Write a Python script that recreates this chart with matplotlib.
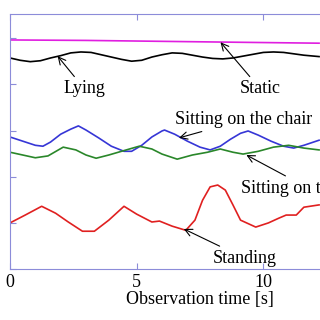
import numpy as np
import matplotlib
matplotlib.use('Agg')
import matplotlib.pyplot as plt

# Static (magenta)
t_static = [0, 3, 6, 9, 12.2]
static = [4.96, 4.95, 4.93, 4.91, 4.89]

# Lying (black)
t_lying = [0, 0.4, 0.8, 1.2, 1.6, 2.0, 2.4, 2.8, 3.2, 3.6, 4.0, 4.4, 4.8, 5.2, 5.6, 6.0,
           6.4, 6.8, 7.2, 7.6, 8.0, 8.4, 8.8, 9.2, 9.6, 10.0, 10.4, 10.8, 11.2, 11.6, 12.0, 12.2]
lying = [4.57, 4.52, 4.49, 4.51, 4.57, 4.62, 4.68, 4.70, 4.69, 4.64, 4.59, 4.54, 4.50, 4.52, 4.59, 4.64,
         4.68, 4.67, 4.63, 4.59, 4.56, 4.55, 4.57, 4.61, 4.65, 4.69, 4.70, 4.69, 4.66, 4.63, 4.61, 4.60]

# Sitting on the chair (blue)
t_chair = [0, 0.5, 1.0, 1.3, 1.6, 2.0, 2.4, 2.7, 3.0, 3.5, 4.0, 4.5, 4.8, 5.2, 5.6, 6.0,
           6.1, 6.5, 7.0, 7.5, 7.9, 8.3, 8.7, 9.1, 9.4, 9.8, 10.3, 10.8, 11.2, 11.6, 12.2]
chair = [2.86, 2.77, 2.68, 2.66, 2.75, 2.92, 3.03, 3.10, 3.01, 2.84, 2.66, 2.55, 2.55, 2.68, 2.86, 2.99,
         3.01, 2.92, 2.77, 2.64, 2.58, 2.66, 2.81, 2.94, 2.99, 2.90, 2.77, 2.66, 2.62, 2.68, 2.79]

# Sitting on the floor (green)
t_floor = [0, 0.5, 1.0, 1.5, 2.1, 2.6, 3.0, 3.4, 3.9, 4.4, 5.1, 5.6, 6.0, 6.6, 7.2, 7.8,
           8.3, 8.8, 9.2, 9.8, 10.4, 11.0, 11.6, 12.2]
floor = [2.53, 2.47, 2.41, 2.45, 2.64, 2.58, 2.47, 2.40, 2.47, 2.55, 2.66, 2.60, 2.49, 2.38, 2.47, 2.53,
         2.60, 2.53, 2.49, 2.55, 2.64, 2.68, 2.62, 2.58]

# Standing (red)
t_stand = [0, 0.6, 1.25, 1.8, 2.3, 2.86, 3.33, 3.9, 4.5, 5.0, 5.6, 5.9, 6.4, 6.94, 7.3, 7.6,
           7.9, 8.2, 8.5, 8.8, 9.1, 9.7, 10.2, 10.6, 10.9, 11.3, 11.6, 12.2]
stand = [1.00, 1.17, 1.36, 1.21, 1.02, 0.82, 0.82, 1.06, 1.36, 1.19, 1.02, 1.04, 0.93, 0.84, 1.06, 1.49,
         1.78, 1.82, 1.71, 1.39, 1.06, 0.91, 1.00, 1.10, 1.17, 1.17, 1.34, 1.39]

plt.rcParams['font.family'] = ['Liberation Serif', 'DejaVu Serif']

fig = plt.figure(figsize=(3.2, 3.2), dpi=100)
# axes run past the right edge, like the cropped original
ax = fig.add_axes([0.03125, 0.159, 1.1875, 0.797])

ax.plot(t_static, static, color='#e01ee0', lw=1.2)
ax.plot(t_lying, lying, color='black', lw=1.2)
ax.plot(t_chair, chair, color='#3636d6', lw=1.2)
ax.plot(t_floor, floor, color='#2a872a', lw=1.2)
ax.plot(t_stand, stand, color='#e02020', lw=1.2)

ax.set_xlim(0, 15)
ax.set_ylim(0, 5.52)
ax.set_xticks([0, 5, 10])
ax.set_yticks([0, 1, 2, 3, 4, 5])
ax.set_yticklabels([])

spine_col = '#8c8cd9'
for s in ax.spines.values():
    s.set_color(spine_col)
ax.tick_params(direction='in', colors=spine_col, length=4, width=0.8,
               top=True, right=True, labelsize=13, labelcolor='black')
ax.set_xlabel('Observation time [s]', fontsize=13, labelpad=0)

arrow = dict(arrowstyle='->', color='black', lw=0.8, shrinkA=1, shrinkB=0)
fs = 13
ax.annotate('Lying', xy=(1.88, 4.61), xytext=(2.94, 3.90), fontsize=fs,
            ha='center', va='center', arrowprops=arrow)
ax.annotate('Static', xy=(8.31, 4.91), xytext=(9.88, 3.90), fontsize=fs,
            ha='center', va='center', arrowprops=arrow)
ax.annotate('Sitting on the chair', xy=(6.67, 2.84), xytext=(9.22, 3.23), fontsize=fs,
            ha='center', va='center', arrowprops=arrow)
ax.annotate('Sitting on the floor', xy=(9.33, 2.47), xytext=(9.10, 1.75), fontsize=fs,
            ha='left', va='center', arrowprops=arrow)
ax.annotate('Standing', xy=(6.86, 0.87), xytext=(9.25, 0.24), fontsize=fs,
            ha='center', va='center', arrowprops=arrow)

fig.savefig('out.png', dpi=100)
